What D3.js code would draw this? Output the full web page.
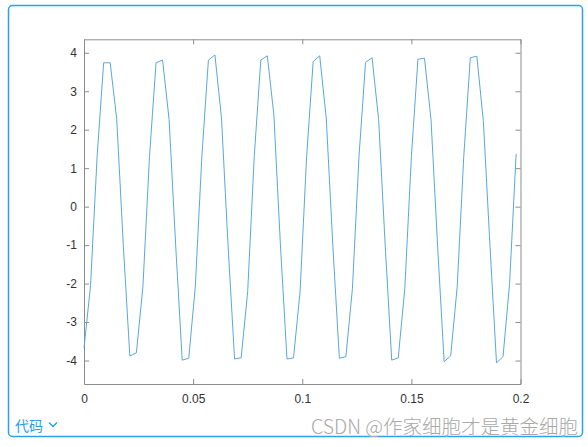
<!DOCTYPE html>
<html>
<head>
<meta charset="utf-8">
<script src="https://d3js.org/d3.v7.min.js"></script>
<style>
  html, body { margin: 0; padding: 0; background: #ffffff; }
  svg { display: block; }
</style>
</head>
<body>
<script>
const svg_width = 588, svg_height = 447;

// sample times (s)
const tValues = [0, 0.003, 0.006, 0.009, 0.012, 0.015, 0.018, 0.021, 0.024, 0.027,
  0.030, 0.033, 0.036, 0.039, 0.042, 0.045, 0.048, 0.051, 0.054, 0.057,
  0.060, 0.063, 0.066, 0.069, 0.072, 0.075, 0.078, 0.081, 0.084, 0.087,
  0.090, 0.093, 0.096, 0.099, 0.102, 0.105, 0.108, 0.111, 0.114, 0.117,
  0.120, 0.123, 0.126, 0.129, 0.132, 0.135, 0.138, 0.141, 0.144, 0.147,
  0.150, 0.153, 0.156, 0.159, 0.162, 0.165, 0.168, 0.171, 0.174, 0.177,
  0.180, 0.183, 0.186, 0.189, 0.192, 0.195, 0.198];

// signal values
const signal = [-3.68, -2.05, 1.3, 3.74, 3.74, 2.27, -1.0, -3.88, -3.80, -2.08,
  1.3, 3.74, 3.81, 2.26, -1.0, -3.99, -3.94, -2.08, 1.3, 3.81,
  3.94, 2.30, -1.0, -3.96, -3.93, -2.21, 1.3, 3.81, 3.92, 2.38,
  -1.0, -3.96, -3.93, -2.21, 1.3, 3.77, 3.92, 2.30, -1.0, -3.94,
  -3.90, -2.12, 1.3, 3.75, 3.87, 2.26, -1.0, -3.99, -3.93, -2.12,
  1.3, 3.83, 3.86, 2.26, -1.0, -4.03, -3.88, -2.08, 1.3, 3.87,
  3.91, 2.21, -1.0, -4.06, -3.90, -2.0, 1.375];

const xTicks = [0, 0.05, 0.1, 0.15, 0.2];
const xTickLabels = ["0", "0.05", "0.1", "0.15", "0.2"];
const yTicks = [-4, -3, -2, -1, 0, 1, 2, 3, 4];

const plot_left = 84, plot_right = 520.5, plot_top = 39.3, plot_bottom = 384;

var svgContainer = d3.select("body")
  .append("svg")
  .attr("width", svg_width)
  .attr("height", svg_height);

// blue outer frame of the page
svgContainer.append("rect")
  .attr("x", 8.5).attr("y", 5.5)
  .attr("width", 574).attr("height", 431)
  .attr("rx", 4).attr("ry", 4)
  .attr("fill", "#ffffff")
  .attr("stroke", "#2aa3e6")
  .attr("stroke-width", 1.5);

var xScale = d3.scaleLinear().domain([0, 0.2]).range([plot_left, plot_right]);
var yScale = d3.scaleLinear().domain([-4.61, 4.35]).range([plot_bottom, plot_top]);

var axisGroup = svgContainer.append("g");

// four sides, ticks pointing inward like matlab's box
axisGroup.append("g")
  .attr("transform", "translate(0," + plot_bottom + ")")
  .call(d3.axisBottom(xScale).tickValues(xTicks)
    .tickFormat(function(d, i) { return xTickLabels[i]; })
    .tickSizeInner(-5).tickSizeOuter(0).tickPadding(10));
axisGroup.append("g")
  .attr("transform", "translate(0," + plot_top + ")")
  .call(d3.axisTop(xScale).tickValues(xTicks).tickFormat("")
    .tickSizeInner(-5).tickSizeOuter(0));
axisGroup.append("g")
  .attr("transform", "translate(" + plot_left + ",0)")
  .call(d3.axisLeft(yScale).tickValues(yTicks)
    .tickFormat(function(d) { return String(d); })
    .tickSizeInner(-5).tickSizeOuter(0).tickPadding(7));
axisGroup.append("g")
  .attr("transform", "translate(" + plot_right + ",0)")
  .call(d3.axisRight(yScale).tickValues(yTicks).tickFormat("")
    .tickSizeInner(-5).tickSizeOuter(0));

axisGroup.selectAll("g")
  .attr("font-family", "'Liberation Sans', Arial, sans-serif")
  .attr("font-size", 12);
axisGroup.selectAll(".domain").attr("stroke", "#8c8c8c").attr("stroke-width", 1);
axisGroup.selectAll(".tick line").attr("stroke", "#8c8c8c").attr("stroke-width", 1);
axisGroup.selectAll(".tick text").attr("fill", "#333333");

// data line
var lineFunction = d3.line()
  .x(function(d, i) { return xScale(tValues[i]); })
  .y(function(d) { return yScale(d); });

svgContainer.append("path")
  .attr("d", lineFunction(signal))
  .attr("fill", "none")
  .attr("stroke", "#5aa7dc")
  .attr("stroke-width", 1)
  .attr("stroke-linejoin", "miter");

// "代码" fold label
var codeGroup = svgContainer.append("g");
codeGroup.append("text")
  .attr("x", 15).attr("y", 431)
  .attr("font-family", "'Noto Sans CJK SC', sans-serif")
  .attr("font-size", 14)
  .attr("fill", "#1e9ef0")
  .text("代码");
codeGroup.append("path")
  .attr("d", "M49,422.5 L53,426.5 L57,422.5")
  .attr("fill", "none")
  .attr("stroke", "#1e9ef0")
  .attr("stroke-width", 1.3);

// watermark
svgContainer.append("text")
  .attr("x", 578).attr("y", 434)
  .attr("text-anchor", "end")
  .attr("font-family", "'Noto Sans CJK SC', sans-serif")
  .attr("font-size", 19.5)
  .attr("font-weight", 300)
  .attr("fill", "#a8a8a8")
  .attr("stroke", "#ffffff")
  .attr("stroke-width", 0.5)
  .attr("paint-order", "stroke")
  .text("CSDN @作家细胞才是黄金细胞");
</script>
</body>
</html>
